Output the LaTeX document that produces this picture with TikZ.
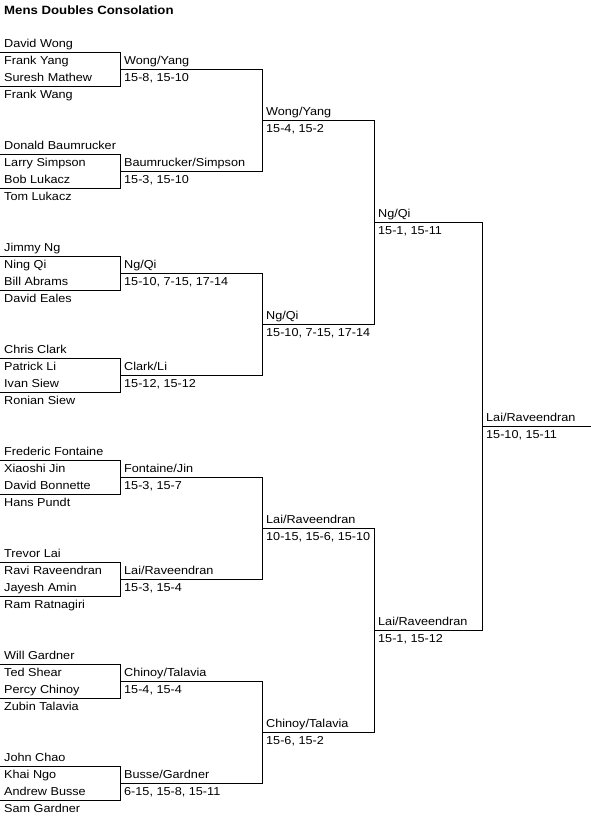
\documentclass[tikz,border=0pt]{standalone}
\usepackage{fontspec}
\setmainfont[FakeStretch=1.1]{Liberation Sans}
\usetikzlibrary{positioning}
\newcommand{\drawfont}{\fontsize{11.5}{13}\selectfont}
\newcommand{\headfont}{\fontsize{12}{14}\selectfont\bfseries}

\begin{document}
\begin{tikzpicture}[x=1pt,y=-1pt]
\tikzstyle{player}=[anchor=base west, inner sep=0pt, font=\drawfont]
\tikzstyle{heading}=[anchor=base west, inner sep=0pt, font=\headfont]
\tikzstyle{connect}=[line width=1pt, line cap=rect]
\useasboundingbox (0,0) rectangle (591,817);

	\node[heading] (title) at (4,14.5) {Mens Doubles Consolation};

	% entries
	\node[player] (n1) at (4,47.5) {David Wong};
	\node[player] (n2) at (4,64.5) {Frank Yang};
	\node[player] (n3) at (4,81.5) {Suresh Mathew};
	\node[player] (n4) at (4,98.5) {Frank Wang};
	\node[player] (n5) at (4,149.5) {Donald Baumrucker};
	\node[player] (n6) at (4,166.5) {Larry Simpson};
	\node[player] (n7) at (4,183.5) {Bob Lukacz};
	\node[player] (n8) at (4,200.5) {Tom Lukacz};
	\node[player] (n9) at (4,251.5) {Jimmy Ng};
	\node[player] (n10) at (4,268.5) {Ning Qi};
	\node[player] (n11) at (4,285.5) {Bill Abrams};
	\node[player] (n12) at (4,302.5) {David Eales};
	\node[player] (n13) at (4,353.5) {Chris Clark};
	\node[player] (n14) at (4,370.5) {Patrick Li};
	\node[player] (n15) at (4,387.5) {Ivan Siew};
	\node[player] (n16) at (4,404.5) {Ronian Siew};
	\node[player] (n17) at (4,455.5) {Frederic Fontaine};
	\node[player] (n18) at (4,472.5) {Xiaoshi Jin};
	\node[player] (n19) at (4,489.5) {David Bonnette};
	\node[player] (n20) at (4,506.5) {Hans Pundt};
	\node[player] (n21) at (4,557.5) {Trevor Lai};
	\node[player] (n22) at (4,574.5) {Ravi Raveendran};
	\node[player] (n23) at (4,591.5) {Jayesh Amin};
	\node[player] (n24) at (4,608.5) {Ram Ratnagiri};
	\node[player] (n25) at (4,659.5) {Will Gardner};
	\node[player] (n26) at (4,676.5) {Ted Shear};
	\node[player] (n27) at (4,693.5) {Percy Chinoy};
	\node[player] (n28) at (4,710.5) {Zubin Talavia};
	\node[player] (n29) at (4,761.5) {John Chao};
	\node[player] (n30) at (4,778.5) {Khai Ngo};
	\node[player] (n31) at (4,795.5) {Andrew Busse};
	\node[player] (n32) at (4,812.5) {Sam Gardner};

	% round 1
	\node[player] (w1_1) at (124,64.5) {Wong/Yang};
	\node[player] (s1_1) at (124,81.5) {15-8, 15-10};
	\node[player] (w1_2) at (124,166.5) {Baumrucker/Simpson};
	\node[player] (s1_2) at (124,183.5) {15-3, 15-10};
	\node[player] (w1_3) at (124,268.5) {Ng/Qi};
	\node[player] (s1_3) at (124,285.5) {15-10, 7-15, 17-14};
	\node[player] (w1_4) at (124,370.5) {Clark/Li};
	\node[player] (s1_4) at (124,387.5) {15-12, 15-12};
	\node[player] (w1_5) at (124,472.5) {Fontaine/Jin};
	\node[player] (s1_5) at (124,489.5) {15-3, 15-7};
	\node[player] (w1_6) at (124,574.5) {Lai/Raveendran};
	\node[player] (s1_6) at (124,591.5) {15-3, 15-4};
	\node[player] (w1_7) at (124,676.5) {Chinoy/Talavia};
	\node[player] (s1_7) at (124,693.5) {15-4, 15-4};
	\node[player] (w1_8) at (124,778.5) {Busse/Gardner};
	\node[player] (s1_8) at (124,795.5) {6-15, 15-8, 15-11};

	% round 2
	\node[player] (w2_1) at (266,115.5) {Wong/Yang};
	\node[player] (s2_1) at (266,132.5) {15-4, 15-2};
	\node[player] (w2_2) at (266,319.5) {Ng/Qi};
	\node[player] (s2_2) at (266,336.5) {15-10, 7-15, 17-14};
	\node[player] (w2_3) at (266,523.5) {Lai/Raveendran};
	\node[player] (s2_3) at (266,540.5) {10-15, 15-6, 15-10};
	\node[player] (w2_4) at (266,727.5) {Chinoy/Talavia};
	\node[player] (s2_4) at (266,744.5) {15-6, 15-2};

	% round 3 and final
	\node[player] (w3_1) at (378,217.5) {Ng/Qi};
	\node[player] (s3_1) at (378,234.5) {15-1, 15-11};
	\node[player] (w3_2) at (378,625.5) {Lai/Raveendran};
	\node[player] (s3_2) at (378,642.5) {15-1, 15-12};
	\node[player] (w4) at (486,421.5) {Lai/Raveendran};
	\node[player] (s4) at (486,438.5) {15-10, 15-11};

	% bracket points
	\coordinate (bt1) at (0,52);  \coordinate (bb1) at (0,86);
	\coordinate (bt2) at (0,154); \coordinate (bb2) at (0,188);
	\coordinate (bt3) at (0,256); \coordinate (bb3) at (0,290);
	\coordinate (bt4) at (0,358); \coordinate (bb4) at (0,392);
	\coordinate (bt5) at (0,460); \coordinate (bb5) at (0,494);
	\coordinate (bt6) at (0,562); \coordinate (bb6) at (0,596);
	\coordinate (bt7) at (0,664); \coordinate (bb7) at (0,698);
	\coordinate (bt8) at (0,766); \coordinate (bb8) at (0,800);
	\coordinate (a1) at (120,69);  \coordinate (e1) at (262,69);
	\coordinate (a2) at (120,171); \coordinate (e2) at (262,171);
	\coordinate (a3) at (120,273); \coordinate (e3) at (262,273);
	\coordinate (a4) at (120,375); \coordinate (e4) at (262,375);
	\coordinate (a5) at (120,477); \coordinate (e5) at (262,477);
	\coordinate (a6) at (120,579); \coordinate (e6) at (262,579);
	\coordinate (a7) at (120,681); \coordinate (e7) at (262,681);
	\coordinate (a8) at (120,783); \coordinate (e8) at (262,783);
	\coordinate (b1) at (262,120); \coordinate (f1) at (374,120);
	\coordinate (b2) at (262,324); \coordinate (f2) at (374,324);
	\coordinate (b3) at (262,528); \coordinate (f3) at (374,528);
	\coordinate (b4) at (262,732); \coordinate (f4) at (374,732);
	\coordinate (c1) at (374,222); \coordinate (g1) at (482,222);
	\coordinate (c2) at (374,630); \coordinate (g2) at (482,630);
	\coordinate (d) at (482,426);  \coordinate (h) at (591,426);

	% first round boxes
	\draw[connect] (bt1) -| (bb1 -| a1) -- (bb1);
	\draw[connect] (bt2) -| (bb2 -| a2) -- (bb2);
	\draw[connect] (bt3) -| (bb3 -| a3) -- (bb3);
	\draw[connect] (bt4) -| (bb4 -| a4) -- (bb4);
	\draw[connect] (bt5) -| (bb5 -| a5) -- (bb5);
	\draw[connect] (bt6) -| (bb6 -| a6) -- (bb6);
	\draw[connect] (bt7) -| (bb7 -| a7) -- (bb7);
	\draw[connect] (bt8) -| (bb8 -| a8) -- (bb8);

	\path[connect]
		(a1) edge (e1)
		(a2) edge (e2)
		(a3) edge (e3)
		(a4) edge (e4)
		(a5) edge (e5)
		(a6) edge (e6)
		(a7) edge (e7)
		(a8) edge (e8)
		(e1) edge (e2)
		(e3) edge (e4)
		(e5) edge (e6)
		(e7) edge (e8)
		(b1) edge (f1)
		(b2) edge (f2)
		(b3) edge (f3)
		(b4) edge (f4)
		(f1) edge (f2)
		(f3) edge (f4)
		(c1) edge (g1)
		(c2) edge (g2)
		(g1) edge (g2)
		(d) edge (h);

\end{tikzpicture}
\end{document}
